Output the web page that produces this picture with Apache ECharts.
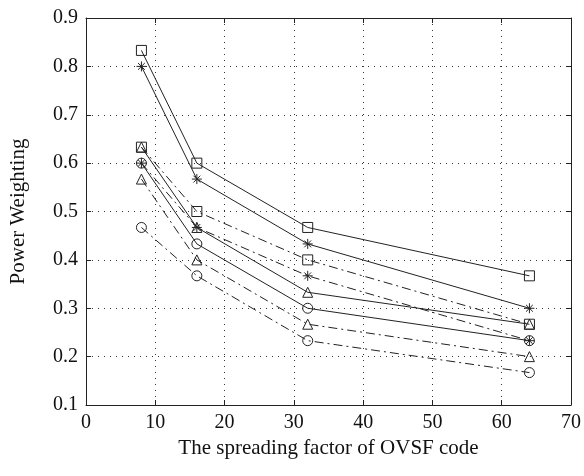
<!DOCTYPE html>
<html>
<head>
<meta charset="utf-8">
<script src="https://cdn.jsdelivr.net/npm/echarts@6/dist/echarts.min.js"></script>
<style>
html,body{margin:0;padding:0;background:#fff;}
#chart{width:584px;height:476px;}
</style>
</head>
<body>
<div id="chart"></div>
<script>
const xValues = [8, 16, 32, 64];
const solidSquare = [0.833, 0.6, 0.467, 0.367];
const solidStar = [0.8, 0.567, 0.433, 0.3];
const solidTriangle = [0.633, 0.467, 0.333, 0.267];
const solidCircle = [0.6, 0.433, 0.3, 0.233];
const dashSquare = [0.633, 0.5, 0.4, 0.267];
const dashStar = [0.6, 0.467, 0.367, 0.233];
const dashTriangle = [0.567, 0.4, 0.267, 0.2];
const dashCircle = [0.467, 0.367, 0.233, 0.167];
const xTicks = [0, 10, 20, 30, 40, 50, 60, 70];
const yTicks = [0.1, 0.2, 0.3, 0.4, 0.5, 0.6, 0.7, 0.8, 0.9];
const xName = 'The spreading factor of OVSF code';
const yName = 'Power Weighting';

const FONT = '"Liberation Serif", "DejaVu Serif", serif';
const INK = '#222';
const STAR = 'path://M5 0 L5 10 M0 5 L10 5 M1.6 1.6 L8.4 8.4 M8.4 1.6 L1.6 8.4';
const DASHDOT = [9, 4, 2, 4];

function mk(name, values, symbol, dashed) {
  return {
    name: name,
    type: 'line',
    xAxisIndex: 0,
    yAxisIndex: 0,
    data: xValues.map((x, i) => [x, values[i]]),
    symbol: symbol,
    symbolSize: symbol === STAR ? 10 : (symbol === 'rect' ? 10 : 10),
    showSymbol: true,
    lineStyle: { color: INK, width: 1, type: dashed ? DASHDOT : 'solid' },
    itemStyle: { color: 'rgba(0,0,0,0)', borderColor: INK, borderWidth: 1 },
    emphasis: { disabled: true },
    silent: true,
    z: 3
  };
}

const chart = echarts.init(document.getElementById('chart'), null, { renderer: 'canvas' });
chart.setOption({
  animation: false,
  backgroundColor: '#fff',
  grid: { left: 83, right: 10, top: 18, bottom: 71, show: false },
  xAxis: [{
    type: 'value', min: xTicks[0], max: xTicks[xTicks.length - 1], interval: 10,
    position: 'bottom',
    name: xName, nameLocation: 'middle', nameGap: 33,
    nameTextStyle: { fontFamily: FONT, fontSize: 21, color: '#111' },
    axisLine: { show: true, onZero: false, lineStyle: { color: INK, width: 1 } },
    axisTick: { show: true, inside: true, length: 5, lineStyle: { color: INK } },
    axisLabel: { fontFamily: FONT, fontSize: 20, color: '#111', margin: 8 },
    splitLine: { show: true, lineStyle: { color: '#333', width: 1, type: [1, 5] } }
  }, {
    type: 'value', min: xTicks[0], max: xTicks[xTicks.length - 1], interval: 10,
    position: 'top',
    axisLine: { show: true, onZero: false, lineStyle: { color: INK, width: 1 } },
    axisTick: { show: true, inside: true, length: 5, lineStyle: { color: INK } },
    axisLabel: { show: false },
    splitLine: { show: false }
  }],
  yAxis: [{
    type: 'value', min: yTicks[0], max: yTicks[yTicks.length - 1], interval: 0.1,
    position: 'left',
    name: yName, nameLocation: 'middle', nameGap: 57, nameRotate: 90,
    nameTextStyle: { fontFamily: FONT, fontSize: 21, color: '#111' },
    axisLine: { show: true, onZero: false, lineStyle: { color: INK, width: 1 } },
    axisTick: { show: true, inside: true, length: 5, lineStyle: { color: INK } },
    axisLabel: { fontFamily: FONT, fontSize: 20, color: '#111', margin: 8,
      formatter: v => v.toFixed(1) },
    splitLine: { show: true, lineStyle: { color: '#333', width: 1, type: [1, 5] } }
  }, {
    type: 'value', min: yTicks[0], max: yTicks[yTicks.length - 1], interval: 0.1,
    position: 'right',
    axisLine: { show: true, onZero: false, lineStyle: { color: INK, width: 1 } },
    axisTick: { show: true, inside: true, length: 5, lineStyle: { color: INK } },
    axisLabel: { show: false },
    splitLine: { show: false }
  }],
  series: [
    mk('solidSquare', solidSquare, 'rect', false),
    mk('solidStar', solidStar, STAR, false),
    mk('solidTriangle', solidTriangle, 'triangle', false),
    mk('solidCircle', solidCircle, 'circle', false),
    mk('dashSquare', dashSquare, 'rect', true),
    mk('dashStar', dashStar, STAR, true),
    mk('dashTriangle', dashTriangle, 'triangle', true),
    mk('dashCircle', dashCircle, 'circle', true)
  ]
});
</script>
</body>
</html>
